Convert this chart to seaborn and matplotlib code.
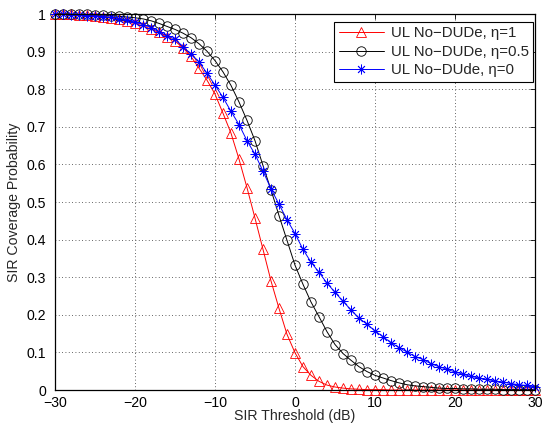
import numpy as np
import pandas as pd
import matplotlib
matplotlib.use("Agg")
import matplotlib.pyplot as plt
import seaborn as sns

# ---- data ----
sir_db = list(range(-30, 31))

eta1 = [1.000, 1.000, 0.999, 0.998, 0.997, 0.996, 0.993, 0.990, 0.986, 0.981,
        0.975, 0.968, 0.960, 0.951, 0.940, 0.928, 0.910, 0.887, 0.856, 0.824,
        0.787, 0.736, 0.683, 0.614, 0.538, 0.457, 0.374, 0.290, 0.217, 0.148,
        0.099, 0.062, 0.039, 0.023, 0.013, 0.008, 0.005, 0.003, 0.002, 0.001,
        0.001, 0.001, 0.000, 0.000, 0.000, 0.000, 0.000, 0.000, 0.000, 0.000,
        0.000, 0.000, 0.000, 0.000, 0.000, 0.000, 0.000, 0.000, 0.000, 0.000,
        0.000]

eta05 = [1.000, 1.000, 1.000, 0.999, 0.999, 0.998, 0.997, 0.996, 0.994, 0.992,
         0.990, 0.987, 0.982, 0.975, 0.967, 0.959, 0.949, 0.937, 0.921, 0.901,
         0.876, 0.846, 0.810, 0.766, 0.717, 0.663, 0.597, 0.532, 0.464, 0.398,
         0.332, 0.281, 0.234, 0.195, 0.155, 0.121, 0.097, 0.079, 0.062, 0.049,
         0.039, 0.032, 0.025, 0.019, 0.014, 0.011, 0.009, 0.007, 0.005, 0.004,
         0.004, 0.003, 0.003, 0.002, 0.002, 0.002, 0.001, 0.001, 0.001, 0.001,
         0.001]

eta0 = [0.999, 0.999, 0.998, 0.997, 0.996, 0.995, 0.993, 0.991, 0.988, 0.984,
        0.978, 0.972, 0.964, 0.953, 0.942, 0.933, 0.913, 0.893, 0.873, 0.842,
        0.811, 0.778, 0.741, 0.706, 0.663, 0.627, 0.582, 0.535, 0.494, 0.453,
        0.416, 0.374, 0.340, 0.313, 0.284, 0.260, 0.236, 0.213, 0.191, 0.175,
        0.157, 0.142, 0.126, 0.113, 0.101, 0.089, 0.081, 0.070, 0.062, 0.055,
        0.048, 0.042, 0.036, 0.032, 0.028, 0.024, 0.021, 0.017, 0.014, 0.012,
        0.008]

labels = ["UL No\u2212DUDe, \u03b7=1", "UL No\u2212DUDe, \u03b7=0.5", "UL No\u2212DUde, \u03b7=0"]
x_ticks = [-30, -20, -10, 0, 10, 20, 30]
y_ticks = [0, 0.1, 0.2, 0.3, 0.4, 0.5, 0.6, 0.7, 0.8, 0.9, 1]
y_tick_labels = ["0", "0.1", "0.2", "0.3", "0.4", "0.5", "0.6", "0.7", "0.8", "0.9", "1"]

sns.set_style("white")
plt.rcParams["font.family"] = ["Liberation Sans", "DejaVu Sans"]
FS = 10.2

fig = plt.figure(figsize=(5.42, 4.32), dpi=100)
ax = fig.add_axes([55 / 542, 1 - 390 / 432, 480 / 542, 376 / 432])

series = [
    (eta1, labels[0], "red", "^", 7.5),
    (eta05, labels[1], "black", "o", 6.8),
    (eta0, labels[2], "blue", (8, 2, 0), 7.0),
]
for vals, lab, col, mk, ms in series:
    df = pd.DataFrame({"x": sir_db, "y": vals})
    sns.lineplot(data=df, x="x", y="y", ax=ax, color=col, marker=mk,
                 markersize=ms, markerfacecolor="none", markeredgecolor=col,
                 markeredgewidth=0.6, linewidth=0.7, label=lab, clip_on=False)

ax.set_xlim(-30, 30)
ax.set_ylim(0, 1)
ax.set_xticks(x_ticks)
ax.set_xticklabels([("\u2212" + str(-t)) if t < 0 else str(t) for t in x_ticks])
ax.set_yticks(y_ticks)
ax.set_yticklabels(y_tick_labels)
ax.grid(True, linestyle=(0, (1, 3)), color="#333333", linewidth=0.6)
ax.tick_params(direction="in", top=True, right=True, length=3.5, width=0.6,
               labelsize=FS, colors="black")
ax.tick_params(axis="x", pad=4.5)
ax.tick_params(axis="y", pad=6.5)
for sp in ax.spines.values():
    sp.set_visible(True)
    sp.set_color("black")
    sp.set_linewidth(0.9)
ax.set_xlabel("SIR Threshold (dB)", fontsize=FS, labelpad=-1)
ax.set_ylabel("SIR Coverage Probability", fontsize=FS, labelpad=4)

leg = ax.legend(loc="upper right", bbox_to_anchor=(0.996, 0.979), borderaxespad=0,
                fancybox=False, frameon=True, edgecolor="black", framealpha=1,
                fontsize=10.8, handlelength=3.0, labelspacing=0.3,
                handletextpad=0.45, borderpad=0.3, numpoints=1)
leg.get_frame().set_linewidth(0.8)

fig.savefig("out.png", dpi=100)
